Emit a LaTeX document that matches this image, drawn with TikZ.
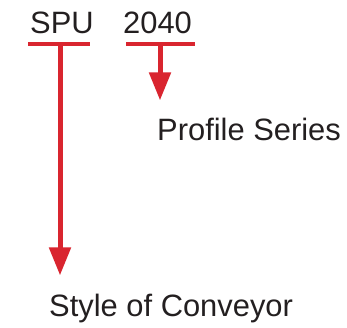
\documentclass[tikz,border=0pt]{standalone}
\usepackage{fontspec}
\setmainfont{Liberation Sans}
\usetikzlibrary{arrows.meta}
\definecolor{codered}{HTML}{D9252F}
\definecolor{textgray}{HTML}{231F20}

\begin{document}
\begin{tikzpicture}[x=1bp, y=-1bp, >={Triangle[width=21bp, length=28bp]},
    label/.style={inner sep=0pt, anchor=base west, text=textgray, font=\fontsize{31}{36}\selectfont},
    bar/.style={codered, line width=4.5bp},
    pointer/.style={->, codered, line width=5bp}]
        \useasboundingbox (0,0) rectangle (347,328);
        \node[label] (SPU) at (30, 33) {SPU};
        \node[label] (NUM) at (123, 33) {2040};
        \node[label] (SER) at (157, 140) {Profile Series};
        \node[label] (STY) at (49, 316) {Style of Conveyor};
        \coordinate (SPUbar) at (60, 44);
        \coordinate (NUMbar) at (160, 44);
        \draw[bar] (28, 44) -- (90, 44);
        \draw[bar] (126, 44) -- (195, 44);
        \draw[pointer] (SPUbar) -- (SPUbar |- STY.north) [shorten >=18bp];
        \draw[pointer] (NUMbar) -- (NUMbar |- SER.north) [shorten >=17bp];
      \end{tikzpicture}
\end{document}
